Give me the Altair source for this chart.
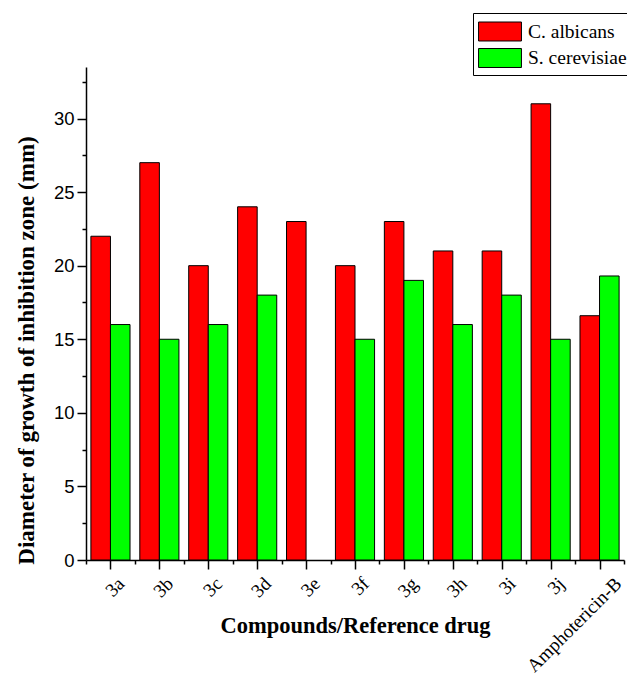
import altair as alt
import pandas as pd

compounds = ["3a", "3b", "3c", "3d", "3e", "3f", "3g", "3h", "3i", "3j", "Amphotericin-B"]
c_albicans = [22, 27, 20, 24, 23, 20, 23, 21, 21, 31, 16.6]
s_cerevisiae = [16, 15, 16, 18, None, 15, 19, 16, 18, 15, 19.3]
series_names = ["C. albicans", "S. cerevisiae"]
series_colors = ["#FF0000", "#00FF00"]

rows = []
for i, c in enumerate(compounds):
    for s, vals in zip(series_names, [c_albicans, s_cerevisiae]):
        v = vals[i]
        if v is not None:
            rows.append({"compound": c, "idx": i, "series": s, "value": v})
df = pd.DataFrame(rows)

label_arr = "[" + ",".join("'" + c + "'" for c in compounds) + "]"
x_ticks = [k * 0.5 - 0.5 for k in range(2 * len(compounds) + 1)]
y_ticks = [k * 2.5 for k in range(14)]
last_idx = len(compounds) - 1

serif = "Liberation Serif"
sans = "Liberation Sans"

chart = alt.Chart(df).transform_calculate(
    xs="datum.series === 'C. albicans' ? datum.idx - 0.4 : datum.idx",
    xe="datum.series === 'C. albicans' ? datum.idx : datum.idx + 0.4",
).mark_rect(stroke="#000000", strokeWidth=1).encode(
    x=alt.X("xs:Q",
            scale=alt.Scale(domain=[-0.5, len(compounds) - 0.5], nice=False, zero=False),
            axis=alt.Axis(
                values=x_ticks,
                labelExpr="datum.value % 1 === 0 ? " + label_arr + "[datum.value] : ''",
                tickSize={"expr": "datum.value % 1 === 0 ? 9 : 4"},
                labelAngle=-45,
                labelOffset={"expr": "datum.value === %d ? 12 : 4" % last_idx},
                labelFont=serif, labelFontSize=19, labelColor="#000000",
                labelPadding=5, labelOverlap=False, labelFlush=False,
                title="Compounds/Reference drug",
                titleFont=serif, titleFontSize=22.5, titleFontWeight="bold",
                titleColor="#000000", titleY=72, titleBaseline="alphabetic",
                domainColor="#000000", domainWidth=1.5,
                tickColor="#000000", tickWidth=1.5, grid=False,
            )),
    x2="xe:Q",
    y=alt.Y("value:Q",
            scale=alt.Scale(domain=[0, 33.5], nice=False),
            axis=alt.Axis(
                values=y_ticks,
                labelExpr="datum.value % 5 === 0 ? datum.value : ''",
                tickSize={"expr": "datum.value % 5 === 0 ? 9 : 4"},
                labelFont=sans, labelFontSize=18.5, labelColor="#000000",
                labelPadding=3,
                title="Diameter of growth of inhibition zone (mm)",
                titleFont=serif, titleFontSize=23, titleFontWeight="bold",
                titleColor="#000000", titleX=-60, titleY=283,
                titleBaseline="middle",
                domainColor="#000000", domainWidth=1.5,
                tickColor="#000000", tickWidth=1.5, grid=False,
            )),
    y2=alt.Y2Datum(0),
    color=alt.Color("series:N",
                    scale=alt.Scale(domain=series_names, range=series_colors),
                    legend=alt.Legend(
                        title=None, orient="none", legendX=387, legendY=-54,
                        direction="vertical",
                        symbolType="M-1.65,-0.73H1.65V0.73H-1.65Z", symbolSize=676,
                        symbolOffset=8.5,
                        symbolStrokeColor="#000000", symbolStrokeWidth=1,
                        labelFont=serif, labelFontSize=19.5, labelColor="#000000",
                        labelOffset=14.5, rowPadding=1.5,
                        padding=5, strokeColor="#000000", fillColor="#FFFFFF",
                    )),
).properties(
    width=538, height=493,
    autosize=alt.AutoSizeParams(type="none"),
    padding={"left": 86, "top": 67, "right": 3, "bottom": 120},
).configure_view(stroke=None)

chart.save("out.html", embed_options={"renderer": "svg", "actions": False})
